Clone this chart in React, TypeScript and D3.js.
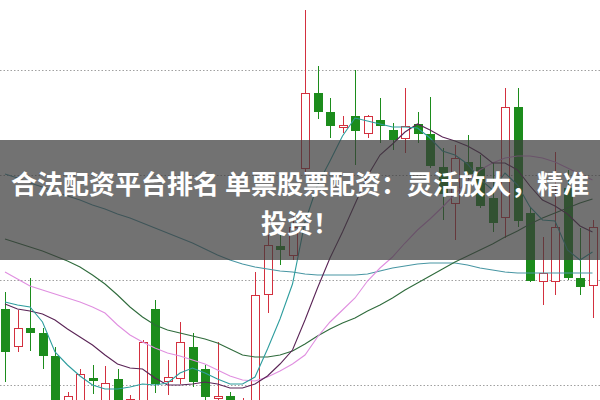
import React from "react";
import * as d3 from "d3";

const W = 600;
const H = 400;

const DAYS = [
  "D01","D02","D03","D04","D05","D06","D07","D08","D09","D10","D11","D12",
  "D13","D14","D15","D16","D17","D18","D19","D20","D21","D22","D23","D24",
  "D25","D26","D27","D28","D29","D30","D31","D32","D33","D34","D35","D36",
  "D37","D38","D39","D40","D41","D42","D43","D44","D45","D46","D47","D48",
];

const OPEN = [8.91,8.54,8.72,8.67,8.44,7.97,7.96,8.22,7.96,8.21,7.95,7.96,8.91,8.19,8.22,8.53,8.31,8.02,8.04,7.92,7.92,9.06,9.54,9.45,10.32,11.07,10.88,10.73,10.84,10.67,10.80,10.70,10.62,10.76,10.66,10.33,9.97,10.38,10.33,10.02,9.83,10.93,9.87,9.19,9.19,10.12,9.22,9.15];
const CLOSE = [8.49,8.72,8.68,8.45,7.95,8.04,8.26,8.20,8.17,7.94,8.01,8.58,8.17,8.23,8.58,8.19,8.04,8.04,7.96,7.97,9.05,9.55,9.51,9.73,11.07,10.89,10.75,10.75,10.70,10.84,10.75,10.61,10.74,10.67,10.35,10.07,10.42,10.27,9.95,9.78,10.93,9.80,9.20,9.27,9.73,9.23,9.14,9.73];
const HIGH = [9.08,8.90,9.22,8.72,8.53,8.08,8.31,8.35,8.34,8.31,8.05,8.60,9.00,8.40,8.78,8.67,8.35,8.58,8.08,8.02,9.28,9.65,9.65,9.87,11.90,11.34,11.02,10.84,11.30,10.85,11.02,10.77,11.12,10.88,11.03,10.52,10.55,10.65,10.45,10.37,11.12,11.12,9.93,9.63,10.48,10.30,9.72,9.80];
const LOW = [8.18,8.48,8.49,8.31,7.90,7.92,7.94,8.06,7.92,7.90,7.90,7.94,8.07,8.05,8.16,8.13,7.98,7.95,7.92,7.88,7.90,8.87,9.35,9.40,10.25,10.81,10.62,10.67,10.35,10.62,10.57,10.50,10.47,10.57,10.32,9.80,9.60,10.05,9.92,9.68,9.62,9.73,9.18,8.95,9.05,9.20,9.05,8.82];

const MA5 = [8.98,8.95,8.93,8.78,8.48,8.35,8.24,8.15,8.11,8.11,8.13,8.16,8.15,8.17,8.27,8.32,8.27,8.21,8.16,8.16,8.23,8.51,8.81,9.16,9.78,10.15,10.39,10.64,10.82,10.79,10.76,10.73,10.73,10.72,10.62,10.49,10.45,10.36,10.21,10.10,10.27,10.15,9.93,9.80,9.79,9.50,9.40,9.48];
const MA10 = [8.96,8.91,8.89,8.86,8.80,8.71,8.63,8.55,8.45,8.36,8.32,8.31,8.22,8.15,8.15,8.16,8.18,8.16,8.12,8.12,8.16,8.24,8.36,8.50,8.80,9.12,9.42,9.68,9.96,10.24,10.45,10.56,10.68,10.76,10.70,10.63,10.59,10.54,10.47,10.37,10.37,10.30,10.14,10.00,9.94,9.86,9.74,9.68];
const MA20 = [9.28,9.21,9.14,9.10,9.06,9.02,8.98,8.93,8.87,8.75,8.65,8.58,8.52,8.47,8.44,8.40,8.36,8.30,8.24,8.20,8.19,8.23,8.29,8.36,8.45,8.63,8.78,8.90,9.02,9.19,9.32,9.43,9.57,9.70,9.81,9.93,10.06,10.19,10.30,10.37,10.42,10.44,10.44,10.42,10.38,10.32,10.26,10.20];
const MA60 = [9.61,9.57,9.53,9.49,9.44,9.39,9.33,9.25,9.16,9.05,8.93,8.83,8.75,8.70,8.67,8.64,8.61,8.57,8.51,8.45,8.43,8.43,8.45,8.49,8.56,8.64,8.71,8.77,8.82,8.89,8.95,9.02,9.10,9.17,9.24,9.31,9.38,9.44,9.50,9.56,9.63,9.69,9.76,9.82,9.87,9.92,9.97,10.01];
const MA120 = [10.26,10.22,10.17,10.13,10.08,10.04,10.00,9.95,9.91,9.86,9.82,9.77,9.72,9.67,9.62,9.57,9.51,9.45,9.40,9.36,9.33,9.31,9.29,9.28,9.26,9.25,9.25,9.25,9.25,9.26,9.29,9.32,9.34,9.36,9.37,9.37,9.37,9.35,9.32,9.30,9.28,9.27,9.27,9.27,9.27,9.27,9.27,9.27];

const GRID = [8.15, 9.2, 10.25, 11.3];

const TITLE_LINES = ["合法配资平台排名 单票股票配资：灵活放大，精准", "投资！"];

const RED = "#d3303f";
const GREEN = "#1c8c1c";

export default function App() {
  const x = d3.scalePoint<string>().domain(DAYS).range([5, 592.5]);
  const y = d3.scaleLinear().domain([8, 12]).range([H, 0]);

  const mkLine = (vals: number[]) =>
    d3
      .line<number>()
      .x((_, i) => x(DAYS[i]) as number)
      .y((v) => y(v))(vals) as string;

  const lines = [
    { vals: MA120, color: "#4896a3" },
    { vals: MA60, color: "#2f6b3c" },
    { vals: MA20, color: "#e08fe0" },
    { vals: MA10, color: "#5a2456" },
    { vals: MA5, color: "#2e9d9e" },
  ];

  const bodyW = 8;

  return (
    <div style={{ position: "fixed", left: 0, top: 0, width: W, height: H, background: "#fff" }}>
      <svg width={W} height={H} style={{ display: "block" }}>
        <rect x={0} y={0} width={W} height={H} fill="#ffffff" />
        {GRID.map((g) => (
          <line
            key={g}
            x1={0}
            x2={W}
            y1={Math.round(y(g)) + 0.5}
            y2={Math.round(y(g)) + 0.5}
            stroke="#a0a0a0"
            strokeWidth={1}
            strokeDasharray="1.5,2"
          />
        ))}
        {DAYS.map((d, i) => {
          const cx = x(d) as number;
          const up = CLOSE[i] >= OPEN[i];
          const color = up ? RED : GREEN;
          const wx = Math.round(cx) + 0.5;
          const top = y(Math.max(OPEN[i], CLOSE[i]));
          const bot = y(Math.min(OPEN[i], CLOSE[i]));
          const left = Math.round(cx - bodyW / 2);
          const h = Math.max(1, Math.round(bot) - Math.round(top));
          return (
            <g key={d}>
              <line x1={wx} x2={wx} y1={y(HIGH[i])} y2={y(LOW[i])} stroke={color} strokeWidth={1} />
              {up ? (
                <rect
                  x={left + 0.5}
                  y={Math.round(top) + 0.5}
                  width={bodyW}
                  height={h}
                  fill="#ffffff"
                  stroke={color}
                  strokeWidth={1}
                />
              ) : (
                <rect
                  x={left}
                  y={Math.round(top)}
                  width={bodyW + 1}
                  height={h + 1}
                  fill={color}
                />
              )}
            </g>
          );
        })}
        {lines.map((l, k) => (
          <path key={k} d={mkLine(l.vals)} fill="none" stroke={l.color} strokeWidth={1.1} />
        ))}
        <rect x={0} y={140} width={W} height={120} fill="rgba(60,60,60,0.72)" />
        {TITLE_LINES.map((t, k) => (
          <text
            key={k}
            x={W / 2}
            y={k === 0 ? 182 : 221}
            textAnchor="middle"
            dominantBaseline="central"
            fill="#ffffff"
            fontFamily="'Noto Sans CJK SC', 'Noto Sans', sans-serif"
            fontWeight={700}
            fontSize={26}
          >
            {t}
          </text>
        ))}
      </svg>
    </div>
  );
}
